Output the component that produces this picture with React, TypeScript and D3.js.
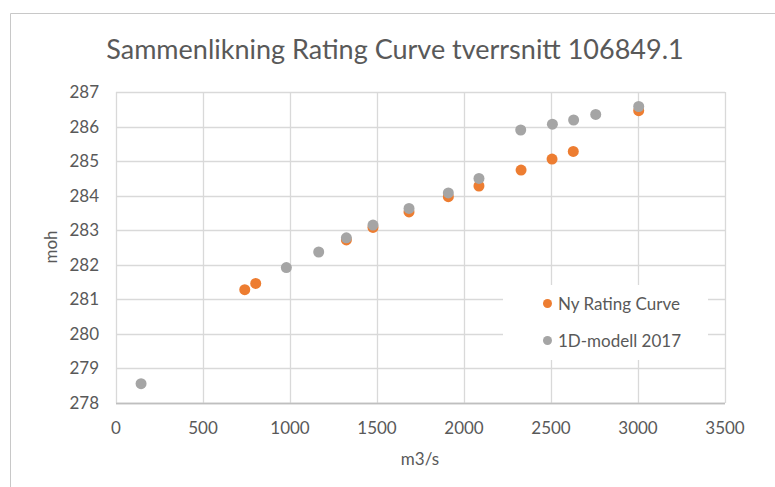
import React from "react";
import * as d3 from "d3";

const title = "Sammenlikning Rating Curve tverrsnitt 106849.1";
const xLabel = "m3/s";
const yLabel = "moh";
const seriesNames = ["Ny Rating Curve", "1D-modell 2017"];
const seriesColors = ["#ED7D31", "#A5A5A5"];

const xTicks = [0, 500, 1000, 1500, 2000, 2500, 3000, 3500];
const yTicks = [278, 279, 280, 281, 282, 283, 284, 285, 286, 287];

const nyQ = [740, 803, 1324, 1477, 1684, 1910, 2086, 2328, 2506, 2628, 3004];
const nyH = [281.28, 281.46, 282.72, 283.08, 283.53, 283.97, 284.28, 284.74, 285.06, 285.28, 286.46];

const modQ = [144, 979, 1165, 1324, 1477, 1684, 1910, 2086, 2326, 2508, 2630, 2757, 3004];
const modH = [278.56, 281.92, 282.37, 282.78, 283.15, 283.63, 284.08, 284.5, 285.9, 286.07, 286.19, 286.35, 286.58];

const W = 775;
const H = 487;
const plot = { left: 116, right: 725, top: 92, bottom: 403 };
const FONT = "Lato, 'Open Sans', sans-serif";
const TEXT = "#595959";
const GRID = "#d9d9d9";

export default function App() {
  const x = d3.scaleLinear().domain([0, 3500]).range([plot.left, plot.right]);
  const y = d3.scaleLinear().domain([278, 287]).range([plot.bottom, plot.top]);

  const series = [
    nyQ.map((q, i) => ({ q, h: nyH[i] })),
    modQ.map((q, i) => ({ q, h: modH[i] })),
  ];

  const legend = { x: 503, y: 285, w: 205, h: 75 };

  return (
    <svg
      width={W}
      height={H}
      style={{ position: "absolute", left: 0, top: 0, background: "#fff" }}
      fontFamily={FONT}
    >
      <rect x={0} y={0} width={W} height={H} fill="#fff" />
      {/* chart border */}
      <line x1={10.5} x2={W} y1={13.5} y2={13.5} stroke="#c8c8c8" />
      <line x1={10.5} x2={10.5} y1={13.5} y2={H} stroke="#c8c8c8" />

      <text x={395} y={59} textAnchor="middle" fontSize={27} fill={TEXT}>
        {title}
      </text>

      {/* gridlines */}
      {yTicks.map((t) => (
        <line
          key={"gy" + t}
          x1={plot.left}
          x2={plot.right}
          y1={Math.round(y(t)) + 0.5}
          y2={Math.round(y(t)) + 0.5}
          stroke={t === 278 ? "#bfbfbf" : GRID}
          strokeWidth={1.3}
        />
      ))}
      {xTicks.map((t) => (
        <line
          key={"gx" + t}
          x1={Math.round(x(t)) + 0.5}
          x2={Math.round(x(t)) + 0.5}
          y1={plot.top}
          y2={plot.bottom}
          stroke={GRID}
          strokeWidth={1.3}
        />
      ))}
      <line
        x1={plot.left}
        x2={plot.right}
        y1={Math.round(y(278)) + 0.5}
        y2={Math.round(y(278)) + 0.5}
        stroke="#bfbfbf"
        strokeWidth={1.3}
      />

      {/* tick labels */}
      {yTicks.map((t) => (
        <text
          key={"ty" + t}
          x={99}
          y={y(t) + 6}
          textAnchor="end"
          fontSize={17}
          fill={TEXT}
        >
          {t}
        </text>
      ))}
      {xTicks.map((t) => (
        <text
          key={"tx" + t}
          x={x(t)}
          y={434}
          textAnchor="middle"
          fontSize={17}
          fill={TEXT}
        >
          {t}
        </text>
      ))}

      <text x={420} y={465} textAnchor="middle" fontSize={17} fill={TEXT}>
        {xLabel}
      </text>
      <text
        transform={`translate(57,247) rotate(-90)`}
        textAnchor="middle"
        fontSize={17}
        fill={TEXT}
      >
        {yLabel}
      </text>

      {/* points */}
      {series.map((s, si) => (
        <g key={"s" + si}>
          {s.map((d, i) => (
            <circle key={i} cx={x(d.q)} cy={y(d.h)} r={5.5} fill={seriesColors[si]} />
          ))}
        </g>
      ))}

      {/* legend */}
      <rect x={legend.x} y={legend.y} width={legend.w} height={legend.h} fill="#fff" />
      {seriesNames.map((n, i) => (
        <g key={"l" + i}>
          <circle cx={547.5} cy={303.5 + i * 37} r={4.5} fill={seriesColors[i]} />
          <text x={558} y={309.5 + i * 37} fontSize={17} fill={TEXT}>
            {n}
          </text>
        </g>
      ))}
    </svg>
  );
}
